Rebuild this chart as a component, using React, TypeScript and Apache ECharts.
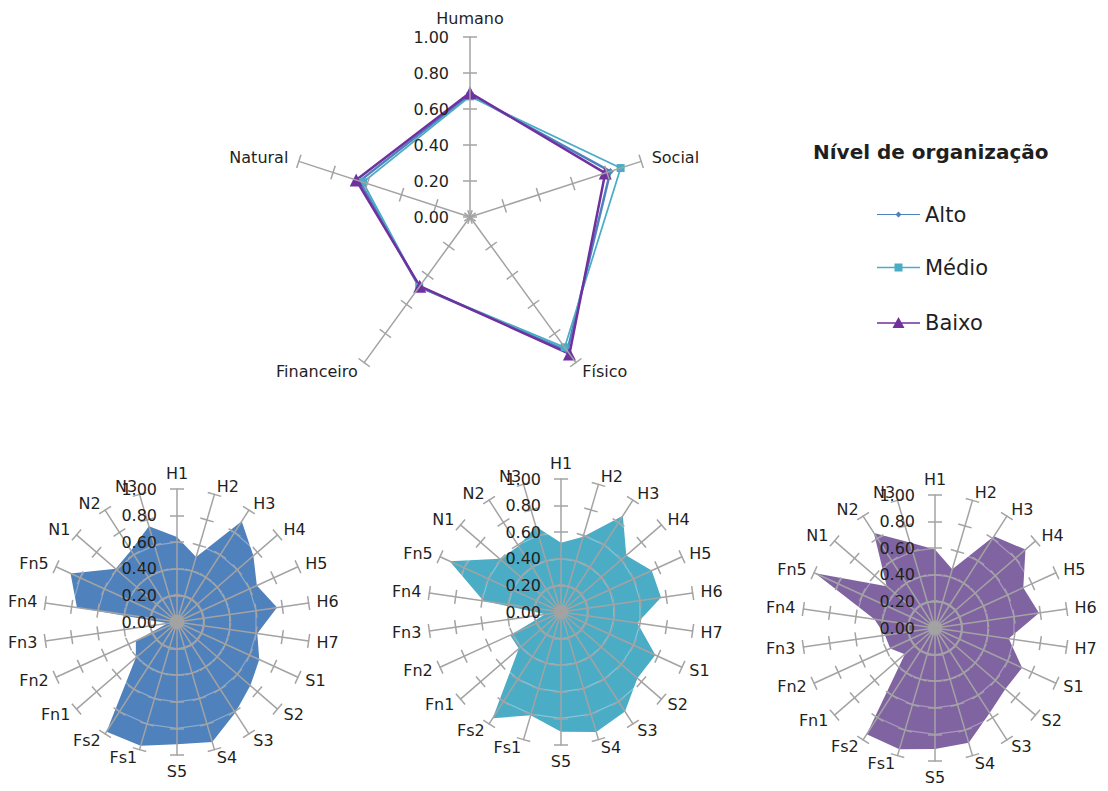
import React, { useEffect, useRef } from 'react';
import * as echarts from 'echarts';

// ---- Data ----
const capitals = ['Humano', 'Social', 'Físico', 'Financeiro', 'Natural'];
const capAlto = [0.68, 0.82, 0.92, 0.48, 0.645];
const capMedio = [0.67, 0.88, 0.895, 0.48, 0.625];
const capBaixo = [0.69, 0.79, 0.94, 0.475, 0.665];

const indicators = ['H1', 'H2', 'H3', 'H4', 'H5', 'H6', 'H7', 'S1', 'S2', 'S3', 'S4', 'S5', 'Fs1', 'Fs2', 'Fn1', 'Fn2', 'Fn3', 'Fn4', 'Fn5', 'N1', 'N2', 'N3'];
const detAlto = [0.64, 0.51, 0.90, 0.76, 0.66, 0.76, 0.61, 0.68, 0.73, 0.81, 0.94, 0.92, 0.97, 0.98, 0.41, 0.34, 0.07, 0.76, 0.88, 0.61, 0.64, 0.75];
const detMedio = [0.52, 0.59, 0.86, 0.65, 0.75, 0.76, 0.58, 0.78, 0.76, 0.89, 0.94, 0.90, 0.81, 0.95, 0.42, 0.42, 0.12, 0.59, 0.92, 0.61, 0.59, 0.67];
const detBaixo = [0.59, 0.46, 0.82, 0.90, 0.73, 0.79, 0.56, 0.72, 0.70, 0.76, 0.90, 0.91, 0.95, 0.95, 0.30, 0.37, 0.38, 0.46, 0.99, 0.48, 0.85, 0.67];

const levels = ['Alto', 'Médio', 'Baixo'];
const legendTitle = 'Nível de organização';

const FONT = 'DejaVu Sans';
const AXIS_GRAY = '#a3a3a3';
const TEXT = '#1f1f1f';
const C_ALTO = '#4F81BD';
const C_MEDIO = '#4BACC6';
const C_BAIXO = '#7030A0';
const F_BAIXO = '#8064A2';

// ECharts radar goes counter-clockwise: reorder so the chart reads clockwise
const cw = <T,>(a: T[]): T[] => [a[0], ...a.slice(1).reverse()];

function mainRadar(center: number[], radius: number, names: string[], split: boolean, nameGap: number, labelMargin: number) {
  return {
    center,
    radius,
    startAngle: 90,
    splitNumber: 5,
    shape: 'polygon',
    indicator: cw(names).map((n, i) => ({ name: n, min: 0, max: 1, axisLabel: { show: i === 0 } })),
    axisName: { color: TEXT, fontSize: 16, fontFamily: FONT },
    nameGap,
    axisLine: { show: true, lineStyle: { color: AXIS_GRAY, width: 1.5 } },
    axisTick: { show: true, length: 7, lineStyle: { color: AXIS_GRAY, width: 1.5 } },
    axisLabel: {
      show: false,
      margin: labelMargin,
      color: TEXT,
      fontSize: 16,
      fontFamily: FONT,
      formatter: (v: number) => Number(v).toFixed(2),
    },
    splitLine: { show: split, lineStyle: { color: 'rgba(255,255,255,0.32)', width: 1.2 } },
    splitArea: { show: false },
    z: 3,
  };
}

// second set of ticks on the other side of each axis, so that ticks cross the axes
function tickRadar(center: number[], radius: number, n: number) {
  return {
    center,
    radius,
    startAngle: 90,
    splitNumber: 5,
    shape: 'polygon',
    indicator: Array.from({ length: n }, () => ({ name: '', min: 0, max: 1 })),
    axisName: { show: false },
    axisLine: { show: false },
    axisTick: { show: true, length: -7, lineStyle: { color: AXIS_GRAY, width: 1.5 } },
    axisLabel: { show: false },
    splitLine: { show: false },
    splitArea: { show: false },
    z: 3,
  };
}

const ICON_ALTO = 'path://M0 2.4H43V3.6H0Z M21.5 0L24.5 3L21.5 6L18.5 3Z';
const ICON_MEDIO = 'path://M0 3.2H43V4.8H0Z M17.5 0H25.5V8H17.5Z';
const ICON_BAIXO = 'path://M0 5.2H43V6.8H0Z M21.5 0L27.5 11H15.5Z';

function legendFor(name: string, top: number, h: number, icon: string, color: string) {
  return {
    data: [name],
    left: 877,
    top,
    padding: 0,
    orient: 'vertical',
    itemWidth: 43,
    itemHeight: h,
    icon,
    selectedMode: false,
    itemStyle: { color, borderWidth: 0 },
    textStyle: { color: TEXT, fontSize: 21, fontFamily: FONT, padding: [0, 0, 0, 0] },
  };
}

export default function App() {
  const ref = useRef<HTMLDivElement>(null);

  useEffect(() => {
    if (!ref.current) return;
    const chart = echarts.init(ref.current, undefined, { renderer: 'svg' });

    const topC = [470, 217];
    const topR = 180;
    const bR = 133;
    const c1 = [177, 622];
    const c2 = [561, 612];
    const c3 = [935, 628];

    const option: any = {
      animation: false,
      backgroundColor: '#ffffff',
      title: {
        text: legendTitle,
        left: 813,
        top: 142,
        padding: 0,
        textStyle: { color: TEXT, fontSize: 20, fontWeight: 'bold', fontFamily: FONT },
      },
      legend: [
        legendFor(levels[0], 204, 6, ICON_ALTO, C_ALTO),
        legendFor(levels[1], 257, 8, ICON_MEDIO, C_MEDIO),
        legendFor(levels[2], 312, 11, ICON_BAIXO, C_BAIXO),
      ],
      radar: [
        mainRadar(topC, topR, capitals, false, 11, 21),
        tickRadar(topC, topR, capitals.length),
        mainRadar(c1, bR, indicators, true, 8, 20),
        tickRadar(c1, bR, indicators.length),
        mainRadar(c2, bR, indicators, true, 8, 20),
        tickRadar(c2, bR, indicators.length),
        mainRadar(c3, bR, indicators, true, 8, 20),
        tickRadar(c3, bR, indicators.length),
      ],
      series: [
        {
          type: 'radar', radarIndex: 0, z: 2,
          symbol: 'diamond', symbolSize: 7,
          lineStyle: { color: C_ALTO, width: 2.5 },
          itemStyle: { color: C_ALTO },
          data: [{ name: levels[0], value: cw(capAlto) }],
        },
        {
          type: 'radar', radarIndex: 0, z: 2,
          symbol: 'rect', symbolSize: 8,
          lineStyle: { color: C_MEDIO, width: 1.75 },
          itemStyle: { color: C_MEDIO },
          data: [{ name: levels[1], value: cw(capMedio) }],
        },
        {
          type: 'radar', radarIndex: 0, z: 2,
          symbol: 'triangle', symbolSize: 13,
          lineStyle: { color: C_BAIXO, width: 2.5 },
          itemStyle: { color: C_BAIXO },
          data: [{ name: levels[2], value: cw(capBaixo) }],
        },
        {
          type: 'radar', radarIndex: 2, z: 2, symbol: 'none',
          lineStyle: { width: 0, color: C_ALTO },
          areaStyle: { color: C_ALTO, opacity: 1 },
          data: [{ name: 'Alto - indicadores', value: cw(detAlto) }],
        },
        {
          type: 'radar', radarIndex: 4, z: 2, symbol: 'none',
          lineStyle: { width: 0, color: C_MEDIO },
          areaStyle: { color: C_MEDIO, opacity: 1 },
          data: [{ name: 'Médio - indicadores', value: cw(detMedio) }],
        },
        {
          type: 'radar', radarIndex: 6, z: 2, symbol: 'none',
          lineStyle: { width: 0, color: F_BAIXO },
          areaStyle: { color: F_BAIXO, opacity: 1 },
          data: [{ name: 'Baixo - indicadores', value: cw(detBaixo) }],
        },
      ],
    };

    chart.setOption(option);
    return () => chart.dispose();
  }, []);

  return (
    <div
      ref={ref}
      style={{ position: 'absolute', left: 0, top: 0, width: 1108, height: 791, background: '#fff' }}
    />
  );
}
